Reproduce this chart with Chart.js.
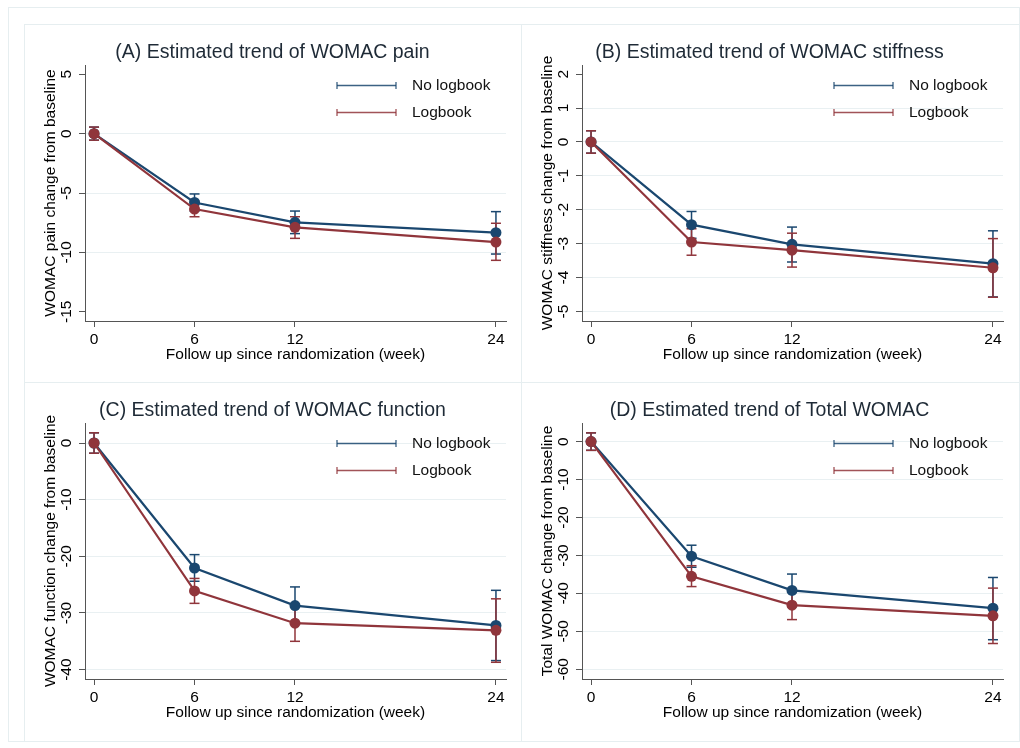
<!DOCTYPE html>
<html><head><meta charset="utf-8">
<script src="https://cdn.jsdelivr.net/npm/chart.js@4.4.0/dist/chart.umd.min.js"></script>
<style>
html,body{margin:0;padding:0;background:#fff;}
#wrap{position:relative;width:1020px;height:748px;overflow:hidden;background:#fff;}
.frame{position:absolute;border:1px solid #e6eef0;box-sizing:border-box;}
.panel{position:absolute;width:497px;height:358px;}
</style></head><body>
<div id="wrap">
  <div class="frame" style="left:8px;top:7px;width:1012px;height:735px;"></div>
  <div class="frame" style="left:24px;top:24px;width:498px;height:359px;"></div>
  <div class="frame" style="left:521px;top:24px;width:499px;height:359px;"></div>
  <div class="frame" style="left:24px;top:382px;width:498px;height:360px;"></div>
  <div class="frame" style="left:521px;top:382px;width:499px;height:360px;"></div>
  <canvas id="cA" class="panel" width="497" height="358" style="left:24px;top:24px;"></canvas>
  <canvas id="cB" class="panel" width="497" height="358" style="left:521px;top:24px;"></canvas>
  <canvas id="cC" class="panel" width="497" height="358" style="left:24px;top:382px;"></canvas>
  <canvas id="cD" class="panel" width="497" height="358" style="left:521px;top:382px;"></canvas>
</div>
<script>
// ---------- data ----------
const weeks = [0, 6, 12, 24];
const xTicks = [0, 6, 12, 24];
const seriesNames = ['No logbook', 'Logbook'];

// (A) pain
const painNoLog   = [0, -5.8, -7.47, -8.34];
const painNoLogLo = [-0.55, -6.52, -8.42, -10.14];
const painNoLogHi = [0.55, -5.08, -6.52, -6.57];
const painLog     = [0, -6.35, -7.89, -9.13];
const painLogLo   = [-0.55, -7.0, -8.82, -10.67];
const painLogHi   = [0.55, -5.7, -7.0, -7.55];
const painTicks   = [5, 0, -5, -10, -15];

// (B) stiffness
const stiffNoLog   = [0, -2.44, -3.02, -3.59];
const stiffNoLogLo = [-0.33, -2.84, -3.54, -4.57];
const stiffNoLogHi = [0.33, -2.05, -2.51, -2.62];
const stiffLog     = [0, -2.95, -3.19, -3.71];
const stiffLogLo   = [-0.33, -3.34, -3.69, -4.58];
const stiffLogHi   = [0.33, -2.56, -2.69, -2.85];
const stiffTicks   = [2, 1, 0, -1, -2, -3, -4, -5];

// (C) function
const funcNoLog   = [0, -22.06, -28.7, -32.2];
const funcNoLogLo = [-1.8, -24.4, -32.0, -38.4];
const funcNoLogHi = [1.8, -19.7, -25.4, -26.0];
const funcLog     = [0, -26.1, -31.8, -33.06];
const funcLogLo   = [-1.8, -28.3, -35.0, -38.7];
const funcLogHi   = [1.8, -23.9, -28.6, -27.5];
const funcTicks   = [0, -10, -20, -30, -40];

// (D) total
const totNoLog   = [0, -30.2, -39.2, -43.9];
const totNoLogLo = [-2.3, -33.1, -43.5, -52.2];
const totNoLogHi = [2.3, -27.3, -34.9, -35.8];
const totLog     = [0, -35.5, -43.1, -45.9];
const totLogLo   = [-2.3, -38.2, -46.9, -53.2];
const totLogHi   = [2.3, -32.7, -39.3, -38.6];
const totTicks   = [0, -10, -20, -30, -40, -50, -60];

// ---------- styling ----------
const FONT = '"Liberation Sans", Arial, Helvetica, sans-serif';
const BLUE = '#1a476f';
const RED = '#90353b';
const AXIS = '#555555';
const GRID = '#e9f0f2';
const LBL = 15.5;
Chart.defaults.font.family = FONT;

const mctx = document.createElement('canvas').getContext('2d');
mctx.font = LBL + 'px ' + FONT;
function widest(labels) {
  return Math.max(...labels.map(v => mctx.measureText(String(v)).width));
}

const legendPlugin = {
  id: 'ciLegend',
  afterDraw(chart) {
    const ctx = chart.ctx, a = chart.chartArea;
    const items = chart.data.datasets.filter(d => d.showInLegend);
    items.forEach((d, i) => {
      const y = Math.round(a.top + 20 + i * 26.5) + 0.5;
      const x1 = a.right - 169, x2 = a.right - 110;
      ctx.save();
      ctx.strokeStyle = d.borderColor;
      ctx.globalAlpha = 0.85;
      ctx.lineWidth = 1.6;
      ctx.beginPath(); ctx.moveTo(x1, y); ctx.lineTo(x2, y); ctx.stroke();
      ctx.lineWidth = 1.3;
      ctx.beginPath();
      ctx.moveTo(x1, y - 3.5); ctx.lineTo(x1, y + 3.5);
      ctx.moveTo(x2, y - 3.5); ctx.lineTo(x2, y + 3.5);
      ctx.stroke();
      ctx.globalAlpha = 1;
      ctx.fillStyle = '#111';
      ctx.font = LBL + 'px ' + FONT;
      ctx.textBaseline = 'middle';
      ctx.textAlign = 'left';
      ctx.fillText(d.label, a.right - 94, y);
      ctx.restore();
    });
  }
};

function ciData(lo, hi) {
  const out = [];
  weeks.forEach((w, i) => {
    out.push({x: w, y: lo[i]}, {x: w, y: hi[i]}, {x: w, y: null});
  });
  return out;
}
function lineData(v) { return weeks.map((w, i) => ({x: w, y: v[i]})); }

function makePanel(id, title, yTitle, yTicks, yMin, yMax, hiddenGrid, s) {
  const pad = 12 - widest(yTicks) / 2;
  const lineDs = (label, vals, color, order) => ({
    type: 'line', label, data: lineData(vals), borderColor: color, backgroundColor: color,
    borderWidth: 2.2, pointRadius: 5.5, pointBorderWidth: 0, pointBackgroundColor: color,
    tension: 0, order, showInLegend: true
  });
  const ciDs = (label, lo, hi, color, order) => ({
    type: 'line', label, data: ciData(lo, hi), borderColor: color, backgroundColor: color,
    borderWidth: 1.5, pointStyle: 'line', pointRadius: 5, pointBorderWidth: 1.5,
    pointBorderColor: color, spanGaps: false, order, showInLegend: false
  });
  new Chart(document.getElementById(id), {
    type: 'line',
    data: {
      datasets: [
        lineDs(seriesNames[0], s[0], BLUE, 1),
        lineDs(seriesNames[1], s[3], RED, 0),
        ciDs(seriesNames[0] + ' CI', s[1], s[2], BLUE, 3),
        ciDs(seriesNames[1] + ' CI', s[4], s[5], RED, 2)
      ]
    },
    options: {
      responsive: false, animation: false, events: [],
      devicePixelRatio: 1,
      layout: {padding: {left: 0, right: 0, top: 0, bottom: 0}},
      plugins: {
        legend: {display: false},
        tooltip: {enabled: false},
        title: {display: true, text: title, color: '#1e2a36',
          font: {size: 19.5, weight: 'normal', family: FONT},
          padding: {top: 16.6, bottom: 1}}
      },
      scales: {
        x: {
          type: 'linear', min: -0.54, max: 24.6,
          afterBuildTicks: sc => { sc.ticks = xTicks.map(v => ({value: v})); },
          afterFit: sc => { sc.height = 61; },
          border: {display: true, color: AXIS, width: 1},
          grid: {drawOnChartArea: false, tickColor: AXIS, tickLength: 6},
          ticks: {padding: 3, color: '#000', maxRotation: 0, autoSkip: false,
            font: {size: LBL, family: FONT}, callback: v => String(v)},
          title: {display: true, text: 'Follow up since randomization (week)', color: '#000',
            font: {size: LBL, family: FONT}, padding: {top: 0, bottom: 17.7}}
        },
        y: {
          type: 'linear', min: yMin, max: yMax,
          afterBuildTicks: sc => { sc.ticks = yTicks.map(v => ({value: v})); },
          afterFit: sc => { sc.width = 61; },
          border: {display: true, color: AXIS, width: 1},
          grid: {
            color: c => (c.tick && hiddenGrid.includes(c.tick.value)) ? 'rgba(0,0,0,0)' : GRID,
            tickColor: AXIS, tickLength: 6, lineWidth: 1
          },
          ticks: {minRotation: 90, maxRotation: 90, crossAlign: 'center', padding: pad,
            autoSkip: false, color: '#000', font: {size: LBL, family: FONT},
            callback: v => String(v)},
          title: {display: true, text: yTitle, color: '#000',
            font: {size: LBL, family: FONT}, padding: {top: 17, bottom: 0}}
        },
        yRightMargin: {
          type: 'linear', position: 'right', display: true,
          afterFit: sc => { sc.width = 15; },
          border: {display: false},
          grid: {display: false, drawOnChartArea: false},
          ticks: {display: false},
          title: {display: false}
        }
      }
    },
    plugins: [legendPlugin]
  });
}

makePanel('cA', '(A) Estimated trend of WOMAC pain', 'WOMAC pain change from baseline',
  painTicks, -15.78, 5.78, [5, -15],
  [painNoLog, painNoLogLo, painNoLogHi, painLog, painLogLo, painLogHi]);
makePanel('cB', '(B) Estimated trend of WOMAC stiffness', 'WOMAC stiffness change from baseline',
  stiffTicks, -5.28, 2.27, [2],
  [stiffNoLog, stiffNoLogLo, stiffNoLogHi, stiffLog, stiffLogLo, stiffLogHi]);
makePanel('cC', '(C) Estimated trend of WOMAC function', 'WOMAC function change from baseline',
  funcTicks, -41.65, 3.53, [],
  [funcNoLog, funcNoLogLo, funcNoLogHi, funcLog, funcLogLo, funcLogHi]);
makePanel('cD', '(D) Estimated trend of Total WOMAC', 'Total WOMAC change from baseline',
  totTicks, -62.55, 4.9, [],
  [totNoLog, totNoLogLo, totNoLogHi, totLog, totLogLo, totLogHi]);
</script>
</body></html>
